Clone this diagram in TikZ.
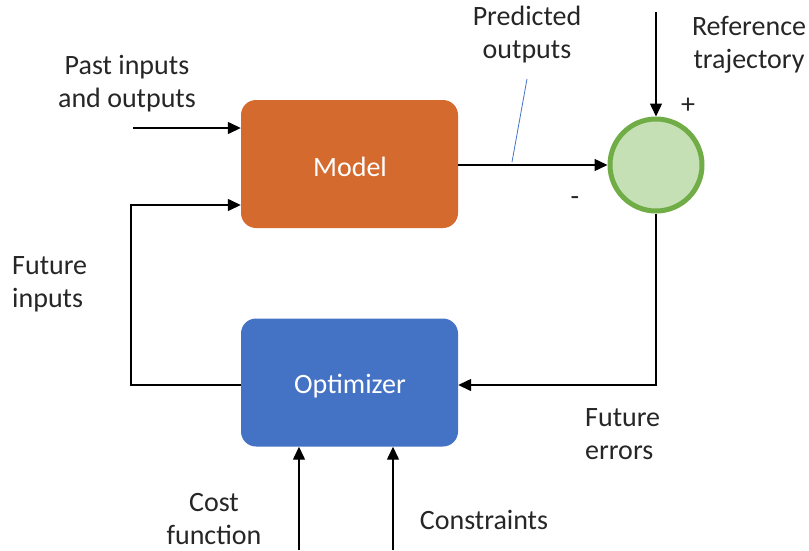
\documentclass[tikz,border=0pt]{standalone}
\usepackage{fontspec}
\setmainfont{Carlito}
\usetikzlibrary{arrows.meta}
\definecolor{modelc}{HTML}{D56A2F}
\definecolor{optc}{HTML}{4472C4}
\definecolor{circfill}{HTML}{C5E0B4}
\definecolor{circline}{HTML}{70AD47}
\definecolor{txt}{HTML}{262626}
\definecolor{callout}{HTML}{4472C4}
\begin{document}
\begin{tikzpicture}[x=1pt,y=-1pt,
  blockbox/.style={draw=none,rounded corners=15pt,minimum width=217pt,minimum height=128pt,inner sep=0pt,text=white,font=\fontsize{28}{33}\selectfont},
  lbl/.style={text=txt,font=\fontsize{28}{33}\selectfont,align=center,inner sep=0pt},
  conn/.style={line width=1.4pt,draw=black,-{Triangle[length=13pt,width=12pt]}},
  plain/.style={line width=1.4pt,draw=black}]
\useasboundingbox (0,0) rectangle (809,550);
\node[blockbox,fill=modelc] (model) at (349.5,164) {};
\node[blockbox,fill=optc] (opt) at (349.5,382.5) {};
\node[text=white,font=\fontsize{28}{33}\selectfont,inner sep=0pt] (modeltxt) at (350,167) {Model};
\node[text=white,font=\fontsize{28}{33}\selectfont,inner sep=0pt] (opttxt) at (350,386) {Optimizer};
\node[circle,draw=circline,line width=5pt,fill=circfill,minimum size=92pt,inner sep=0pt] (sum) at (656,165) {};
% coordinates
\coordinate (pastin) at (133,128);
\coordinate (refin) at (656,12);
\coordinate (loopA) at (131,385);
\coordinate (loopB) at (131,205);
\coordinate (errc) at (656,385);
\coordinate (costin) at (299,550);
\coordinate (consin) at (393,550);
\coordinate (calA) at (512,162);
\coordinate (calB) at (527,79);
% connectors
\draw[conn] (pastin) -- (pastin -| model.west);
\draw[conn] (opt.west |- loopA) -- (loopA) -- (loopB) -- (loopB -| model.west);
\draw[conn] (model.east |- sum.west) -- (sum.west);
\draw[conn] (refin) -- (sum.north);
\draw[conn] (sum.south) -- (errc) -- (errc -| opt.east);
\draw[conn] (costin) -- (costin |- opt.south);
\draw[conn] (consin) -- (consin |- opt.south);
\draw[callout,line width=0.8pt] (calA) -- (calB);
% labels
\node[lbl] (lpast) at (127,84) {Past inputs\\and outputs};
\node[lbl] (lpred) at (527,35) {Predicted\\outputs};
\node[lbl] (lref) at (749,45) {Reference\\trajectory};
\node[lbl] (lplus) at (688,106) {+};
\node[lbl] (lminus) at (575,201) {-};
\node[lbl,align=left,anchor=west] (lfin) at (12,284) {Future\\inputs};
\node[lbl,align=left,anchor=west] (lerr) at (585,434) {Future\\errors};
\node[lbl] (lcost) at (214,519) {Cost\\function};
\node[lbl] (lcons) at (484,520) {Constraints};
\end{tikzpicture}
\end{document}
